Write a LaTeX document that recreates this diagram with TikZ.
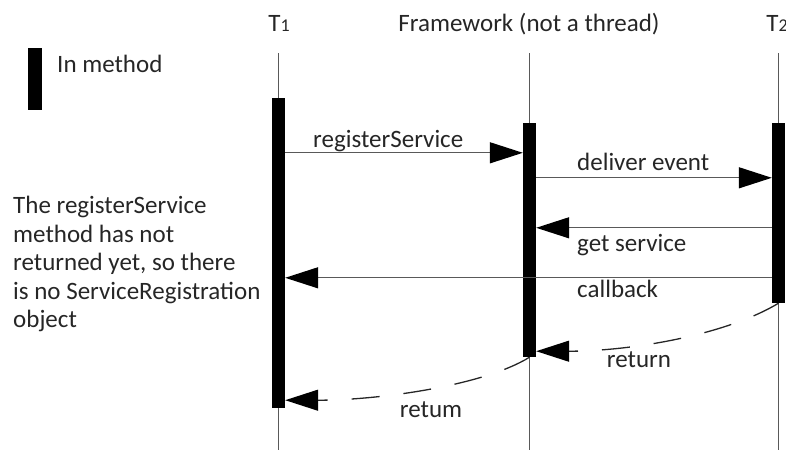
\documentclass[tikz,border=0pt]{standalone}
\usepackage{fontspec}
\setmainfont{Carlito}
\usetikzlibrary{arrows.meta}

\tikzset{
  lifeline/.style={draw=black!65, line width=1.3pt},
  methodbar/.style={fill=black, draw=none, minimum width=13pt, inner sep=0pt},
  msg/.style={draw=black!65, line width=1.3pt, -{Triangle[length=33pt,width=21pt,color=black]}},
  reply/.style={draw=black!85, line width=1.3pt, dash pattern=on 28pt off 24pt, -{Triangle[length=33pt,width=21pt,color=black]}},
  lbl/.style={font=\fontsize{25}{28.5}\selectfont, text=black!85, inner sep=0pt},
}
\newcommand{\thrname}[1]{T{\fontsize{18}{18}\selectfont #1}}

\begin{document}
\begin{tikzpicture}[x=1pt, y=-1pt]
\useasboundingbox (0,0) rectangle (786,450);

% thread heads
\node[lbl, anchor=base] (t1head) at (279,31) {\thrname{1}};
\node[lbl, anchor=base] (fwhead) at (529,31) {Framework (not a thread)};
\node[lbl, anchor=base] (t2head) at (777,31) {\thrname{2}};

% lifelines
\coordinate (t1_top) at (278.5,53);
\coordinate (t1_bottom) at (278.5,450);
\coordinate (fw_top) at (529.5,53);
\coordinate (fw_bottom) at (529.5,450);
\coordinate (t2_top) at (778.5,53);
\coordinate (t2_bottom) at (778.5,450);
\draw[lifeline] (t1_top) -- (t1_bottom);
\draw[lifeline] (fw_top) -- (fw_bottom);
\draw[lifeline] (t2_top) -- (t2_bottom);

% method bars
\node[methodbar, minimum height=310pt] (t1bar) at (278.5,253) {};
\node[methodbar, minimum height=234pt] (fwbar) at (529.5,240) {};
\node[methodbar, minimum height=180pt] (t2bar) at (778.5,213) {};

% legend
\node[methodbar, minimum width=14pt, minimum height=62pt] (legendbar) at (34.5,79) {};
\node[lbl, anchor=base west] (legendtext) at (57,72) {In method};

% calls
\draw[msg] ([yshift=-55pt]t1bar.north east) -- ([yshift=-30pt]fwbar.north west);
\node[lbl, anchor=base west] (reglabel) at (313,147) {registerService};
\draw[msg] ([yshift=-55pt]fwbar.north east) -- ([yshift=-55pt]t2bar.north west);
\node[lbl, anchor=base west] (deliverlabel) at (577,170) {deliver event};
\draw[msg] ([yshift=-105pt]t2bar.north west) -- ([yshift=-105pt]fwbar.north east);
\node[lbl, anchor=base west] (getlabel) at (577,251) {get service};
\draw[msg] ([yshift=-155pt]t2bar.north west) -- ([yshift=-180pt]t1bar.north east);
\node[lbl, anchor=base west] (cblabel) at (577,297) {callback};

% returns
\draw[reply] (t2bar.south) .. controls ([xshift=-53pt,yshift=-32pt]t2bar.south) and ([xshift=94pt,yshift=6pt]fwbar.south east) .. ([yshift=6pt]fwbar.south east);
\node[lbl, anchor=base] (ret1label) at (639,367) {return};
\draw[reply] (fwbar.south) .. controls ([xshift=-45pt,yshift=-28pt]fwbar.south) and ([xshift=95pt,yshift=8pt]t1bar.south east) .. ([yshift=8pt]t1bar.south east);
\node[lbl, anchor=base] (ret2label) at (431,417) {retum};

% note
\node[lbl, anchor=north west, align=left] (note) at (13,196) {The registerService\\method has not\\returned yet, so there\\is no ServiceRegistration\\object};
\end{tikzpicture}
\end{document}
